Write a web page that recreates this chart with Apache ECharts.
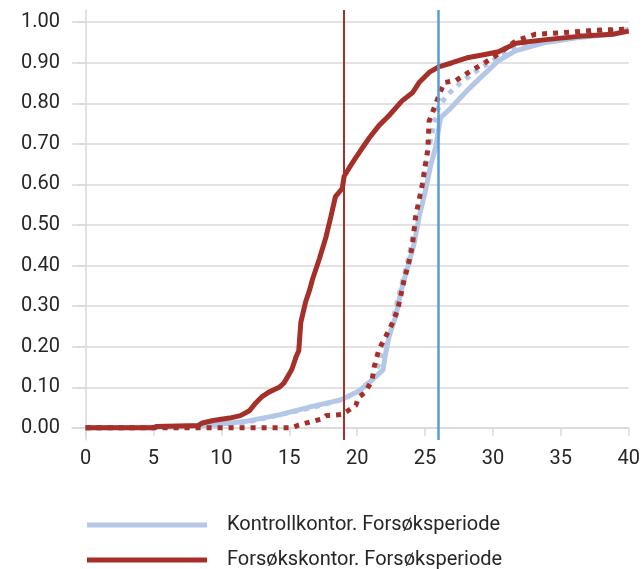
<!DOCTYPE html>
<html><head><meta charset="utf-8">
<script src="https://cdn.jsdelivr.net/npm/echarts@6/dist/echarts.min.js"></script>
<style>html,body{margin:0;padding:0;background:#fff}#c{width:643px;height:569px}</style>
</head><body><div id="c"></div>
<script>
const xTicks = [0,5,10,15,20,25,30,35,40];
const yTicks = [0,0.1,0.2,0.3,0.4,0.5,0.6,0.7,0.8,0.9,1.0];
const seriesNames = ['Kontrollkontor. Forsøksperiode','Forsøkskontor. Forsøksperiode','Kontrollkontor. Før','Forsøkskontor. Før'];
const kontrollForsok = [[0,0],[7,0.002],[9.4,0.007],[11.8,0.016],[14.26,0.032],[16.7,0.053],[18.8,0.069],[20.1,0.09],[21.1,0.118],[21.9,0.143],[22.1,0.184],[22.35,0.225],[22.84,0.275],[23.2,0.333],[23.6,0.382],[23.95,0.423],[24.2,0.455],[24.56,0.52],[25.05,0.588],[25.4,0.645],[25.8,0.695],[26.0,0.736],[26.15,0.765],[26.8,0.785],[27.5,0.81],[28.2,0.835],[29.2,0.867],[30.4,0.905],[31.7,0.93],[33.9,0.95],[36.3,0.962],[38.8,0.97],[40,0.983]];
const forsokForsok = [[0,0],[5,0],[5.2,0.003],[8.3,0.006],[8.6,0.012],[9.4,0.018],[10.6,0.024],[11.4,0.03],[12.06,0.042],[12.55,0.062],[13.0,0.077],[13.5,0.088],[14.26,0.10],[14.6,0.11],[15.0,0.133],[15.2,0.145],[15.5,0.175],[15.7,0.19],[15.85,0.26],[16.2,0.31],[16.5,0.34],[16.7,0.365],[17.2,0.415],[17.7,0.47],[18.06,0.52],[18.4,0.57],[18.9,0.59],[19.04,0.62],[19.4,0.64],[19.9,0.666],[20.3,0.686],[20.9,0.715],[21.6,0.745],[22.35,0.77],[23.3,0.806],[24.07,0.826],[24.56,0.851],[25.3,0.876],[26.0,0.89],[27.0,0.90],[28.2,0.913],[29.5,0.921],[30.4,0.927],[31.7,0.948],[33.9,0.957],[36.3,0.965],[38.8,0.97],[40,0.978]];
const kontrollFor = [[0,0],[8,0.001],[10,0.005],[12,0.015],[14,0.03],[16.7,0.05],[18.9,0.07],[20.1,0.09],[21.1,0.12],[21.9,0.18],[22.5,0.25],[23.1,0.33],[23.8,0.42],[24.4,0.52],[24.8,0.6],[25.2,0.68],[25.6,0.74],[26.0,0.79],[26.6,0.82],[27.6,0.85],[28.8,0.88],[30.2,0.91],[32,0.94],[34,0.955],[36,0.965],[38.5,0.975],[40,0.985]];
const forsokFor = [[0,0],[15.2,0],[15.7,0.007],[16.7,0.016],[17.4,0.022],[17.7,0.03],[18.9,0.033],[19.4,0.044],[19.9,0.055],[20.1,0.075],[20.6,0.088],[21.1,0.118],[21.25,0.15],[21.6,0.193],[22.1,0.225],[22.6,0.258],[22.97,0.29],[23.2,0.324],[23.46,0.365],[23.8,0.407],[24.07,0.45],[24.3,0.52],[24.8,0.60],[25.2,0.686],[25.3,0.756],[25.8,0.80],[26.4,0.851],[27.25,0.856],[28.2,0.876],[29.2,0.896],[30.2,0.917],[31.7,0.954],[33.1,0.97],[35.1,0.974],[37.5,0.98],[40,0.983]];
const medianForsok = 19;
const medianKontroll = 26;

const BLUE = '#B4C7E7', RED = '#A5302A';
const FONT = 'Roboto';
const TXT = '#262626';
const legendBase = {orient:'horizontal', left:82, icon:'rect', itemWidth:120, itemHeight:5,
  textStyle:{fontSize:20,color:TXT,fontFamily:FONT,padding:[0,0,0,15]}};
const chart = echarts.init(document.getElementById('c'), null, {renderer:'canvas'});
chart.setOption({
  animation:false,
  textStyle:{fontFamily:FONT},
  grid:{left:72,right:13,top:10,bottom:129,containLabel:false},
  legend:[
    Object.assign({}, legendBase, {data:[seriesNames[0]], top:510}),
    Object.assign({}, legendBase, {data:[seriesNames[1]], top:545})
  ],
  xAxis:{
    type:'value', min:-1, max:40,
    axisLine:{show:true,lineStyle:{color:'#d9d9d9',width:1.5}},
    axisTick:{show:true,length:8,lineStyle:{color:'#d9d9d9',width:1.5},customValues:xTicks},
    axisLabel:{fontSize:20,color:TXT,margin:9,customValues:xTicks,fontFamily:FONT},
    splitLine:{show:false}
  },
  yAxis:{
    type:'value', min:-0.03, max:1.03,
    axisLine:{show:true,lineStyle:{color:'#d9d9d9',width:1.5}},
    axisTick:{show:true,length:8,lineStyle:{color:'#d9d9d9',width:1.5},customValues:yTicks},
    axisLabel:{fontSize:20,color:TXT,margin:12,customValues:yTicks,formatter:v=>v.toFixed(2),fontFamily:FONT},
    splitLine:{show:true,lineStyle:{color:'#d9d9d9',width:1.5}}
  },
  series:[
    {name:seriesNames[0],type:'line',data:kontrollForsok,showSymbol:false,lineStyle:{color:BLUE,width:5},itemStyle:{color:BLUE},
     markLine:{silent:true,symbol:'none',label:{show:false},lineStyle:{color:'#5B9BD5',width:2.5,type:'solid'},data:[{xAxis:medianKontroll}]}},
    {name:seriesNames[2],type:'line',data:kontrollFor,showSymbol:false,lineStyle:{color:BLUE,width:5,type:[5,6],cap:'butt'},itemStyle:{color:BLUE}},
    {name:seriesNames[3],type:'line',data:forsokFor,showSymbol:false,lineStyle:{color:RED,width:5,type:[5,6],cap:'butt'},itemStyle:{color:RED}},
    {name:seriesNames[1],type:'line',data:forsokForsok,showSymbol:false,lineStyle:{color:RED,width:5},itemStyle:{color:RED},
     markLine:{silent:true,symbol:'none',label:{show:false},lineStyle:{color:RED,width:2,type:'solid'},data:[{xAxis:medianForsok}]}}
  ]
});
</script></body></html>
